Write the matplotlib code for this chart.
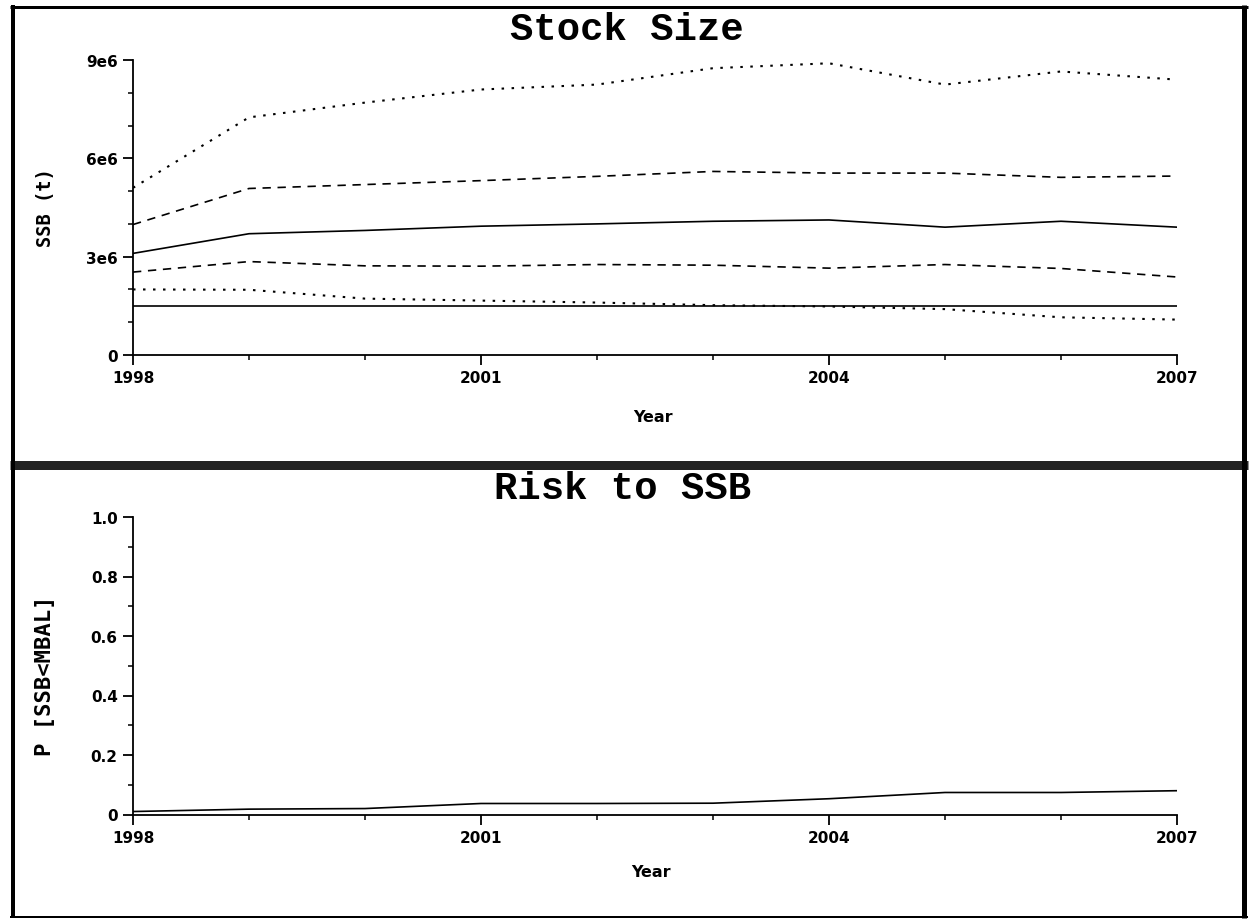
import matplotlib
matplotlib.use("Agg")
import matplotlib.pyplot as plt
from matplotlib.lines import Line2D
from matplotlib.ticker import MultipleLocator

years = [1998, 1999, 2000, 2001, 2002, 2003, 2004, 2005, 2006, 2007]
ssb_p95 = [5.1e6, 7.25e6, 7.7e6, 8.1e6, 8.25e6, 8.75e6, 8.9e6, 8.25e6, 8.65e6, 8.4e6]
ssb_p75 = [3.98e6, 5.08e6, 5.2e6, 5.32e6, 5.45e6, 5.6e6, 5.55e6, 5.55e6, 5.42e6, 5.46e6]
ssb_p50 = [3.1e6, 3.7e6, 3.8e6, 3.93e6, 4.0e6, 4.08e6, 4.12e6, 3.9e6, 4.08e6, 3.9e6]
ssb_p25 = [2.53e6, 2.85e6, 2.72e6, 2.71e6, 2.76e6, 2.74e6, 2.65e6, 2.76e6, 2.64e6, 2.38e6]
ssb_p5 = [2.0e6, 1.99e6, 1.72e6, 1.66e6, 1.6e6, 1.52e6, 1.48e6, 1.4e6, 1.15e6, 1.08e6]
mbal = 1.5e6
risk = [0.01, 0.018, 0.02, 0.037, 0.037, 0.038, 0.053, 0.074, 0.074, 0.08]

ssb_ticks = [0, 3e6, 6e6, 9e6]
ssb_ticklabels = ["0", "3e6", "6e6", "9e6"]
risk_ticks = [0, 0.2, 0.4, 0.6, 0.8, 1.0]
risk_ticklabels = ["0", "0.2", "0.4", "0.6", "0.8", "1.0"]
year_ticks = [1998, 2001, 2004, 2007]

W, H = 1254, 920
fig = plt.figure(figsize=(W / 100, H / 100), dpi=100)
fig.patch.set_facecolor("white")

def fx(px):
    return px / W

def fy(py):
    return 1 - py / H

ax1 = fig.add_axes([fx(133), fy(356), fx(1177) - fx(133), fy(61) - fy(356)])
ax2 = fig.add_axes([fx(133), fy(815.5), fx(1177) - fx(133), fy(518) - fy(815.5)])

lw = 1.2
dot = (0, (1.2, 3.6))
dash = (0, (5, 4))
ax1.plot(years, ssb_p95, color="black", lw=1.5, ls=dot)
ax1.plot(years, ssb_p75, color="black", lw=lw, ls=dash)
ax1.plot(years, ssb_p50, color="black", lw=lw, ls="-")
ax1.plot(years, ssb_p25, color="black", lw=lw, ls=dash)
ax1.plot(years, ssb_p5, color="black", lw=1.5, ls=dot)
ax1.plot([years[0], years[-1]], [mbal, mbal], color="black", lw=lw, ls="-")

ax2.plot(years, risk, color="black", lw=lw, ls="-")

tick_font = dict(family="DejaVu Sans", weight="bold", size=11)

for ax, ylim, yt, ytl, minor in [
    (ax1, (0, 9e6), ssb_ticks, ssb_ticklabels, 1e6),
    (ax2, (0, 1.0), risk_ticks, risk_ticklabels, 0.1),
]:
    ax.set_xlim(1998, 2007)
    ax.set_ylim(*ylim)
    ax.set_xticks(year_ticks)
    ax.set_xticklabels([str(y) for y in year_ticks], fontdict=tick_font)
    ax.xaxis.set_minor_locator(MultipleLocator(1))
    ax.set_yticks(yt)
    ax.set_yticklabels(ytl, fontdict=tick_font)
    ax.yaxis.set_minor_locator(MultipleLocator(minor))
    for s in ["top", "right"]:
        ax.spines[s].set_visible(False)
    for s in ["left", "bottom"]:
        ax.spines[s].set_linewidth(1.3)
    ax.tick_params(which="major", direction="out", length=7, width=1.3, pad=4, color="black")
    ax.tick_params(which="minor", direction="out", length=3.5, width=1.1, color="black")
    ax.set_facecolor("white")

lab_font = dict(family="DejaVu Sans", weight="bold", size=11.5)
fig.text(fx(653), fy(418), "Year", ha="center", va="center", **lab_font)
fig.text(fx(651), fy(873), "Year", ha="center", va="center", **lab_font)
fig.text(fx(45), fy(208), "SSB (t)", ha="center", va="center", rotation=90,
         family="DejaVu Sans Mono", weight="bold", size=13.5)
fig.text(fx(45), fy(676), "P [SSB<MBAL]", ha="center", va="center", rotation=90,
         family="DejaVu Sans Mono", weight="bold", size=16)

title_font = dict(family="Liberation Mono", weight="bold", size=28)
fig.text(fx(627), fy(40), "Stock Size", ha="center", va="baseline", **title_font)
fig.text(fx(623), fy(499), "Risk to SSB", ha="center", va="baseline", **title_font)

# panel frames
def hline(y, x0, x1, width, color="black"):
    fig.add_artist(Line2D([fx(x0), fx(x1)], [fy(y), fy(y)], color=color, lw=width * 0.72,
                          solid_capstyle="butt"))

def vline(x, y0, y1, width, color="black"):
    fig.add_artist(Line2D([fx(x), fx(x)], [fy(y0), fy(y1)], color=color, lw=width * 0.72,
                          solid_capstyle="butt"))

hline(7.5, 10, 1248, 3)
hline(465.5, 10, 1248, 9, color="#222222")
hline(917.5, 10, 1248, 2)
vline(13, 6, 919, 4)
vline(1243.5, 6, 919, 5)

fig.savefig("out.png", dpi=100, facecolor="white")
